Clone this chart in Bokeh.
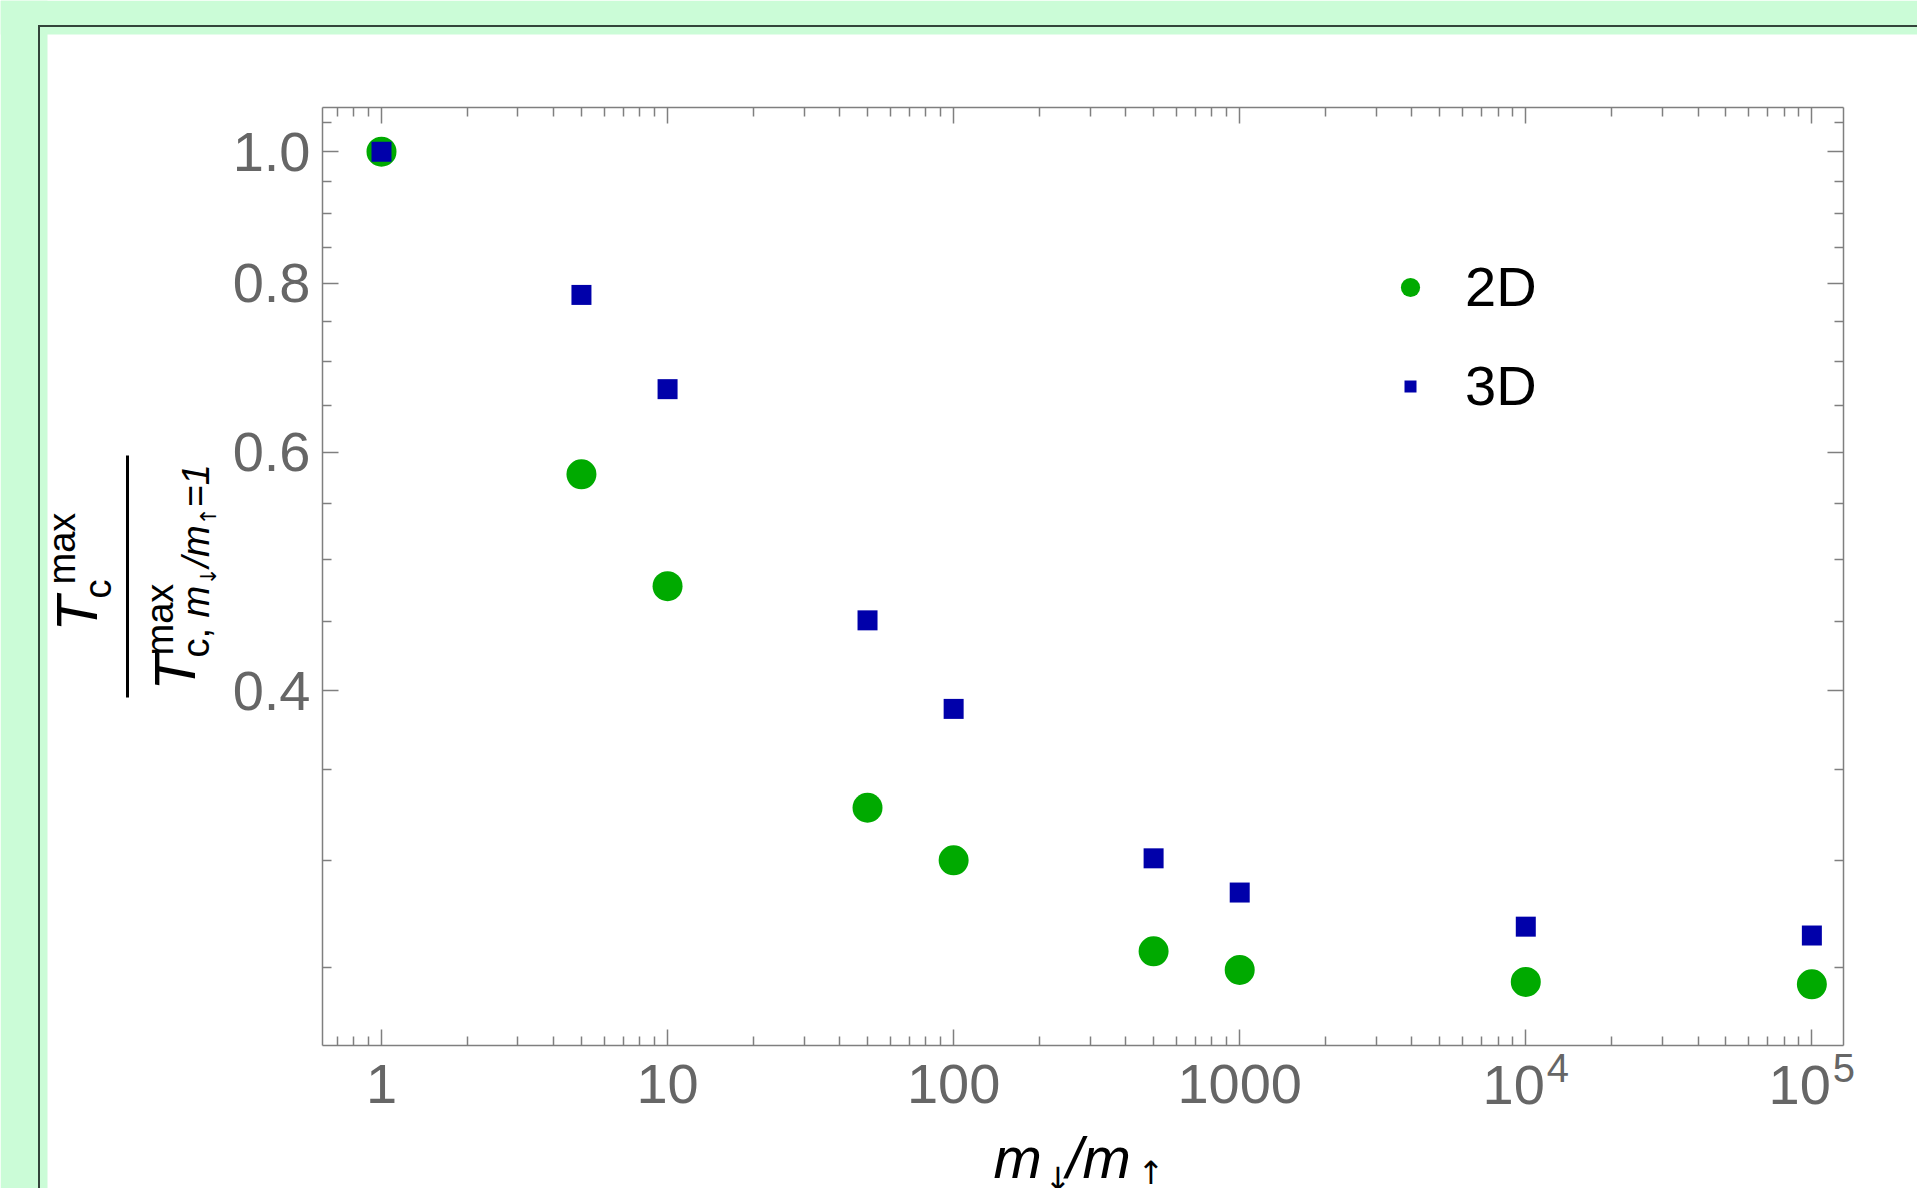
import math
from bokeh.plotting import figure
from bokeh.models import (FixedTicker, CustomJSTickFormatter, LogAxis, Label,
                          BoxAnnotation, Legend, LegendItem)
from bokeh.embed import file_html
from bokeh.resources import INLINE

# ---------------- data ----------------
mass_ratio = [1, 5, 10, 50, 100, 500, 1000, 10000, 100000]
tc_2d = [1.0, 0.578, 0.478, 0.328, 0.300, 0.257, 0.249, 0.244, 0.243]
tc_3d = [1.0, 0.784, 0.668, 0.451, 0.388, 0.301, 0.284, 0.268, 0.264]
series_names = ["2D", "3D"]
x_major = [1, 10, 100, 1000, 10000, 100000]
y_major = [0.4, 0.6, 0.8, 1.0]
y_minor = [0.25, 0.3, 0.35, 0.45, 0.5, 0.55, 0.65, 0.7, 0.75, 0.85, 0.9, 0.95, 1.05]
box_x = (0.622, 1.29e5)     # axis extent of the plot box
box_y = (0.219, 1.078)

# ---------------- style ----------------
GREEN_BG = "#cbfcd7"
DARK_LINE = "#33443a"
FRAME = "#7f7f7f"
TICK_TXT = "#666666"
C2D = "#00aa00"
C3D = "#0000aa"
FONT = "Liberation Sans"
ARROW_FONT = "DejaVu Sans"

W, H = 1917, 1188
BL, BR, BT, BB = 322, 1843, 107, 1045      # plot box in page pixels
BASE_K = 0.36                              # label baseline correction (em)

LX0, LX1 = math.log10(box_x[0]), math.log10(box_x[1])
LY0, LY1 = math.log10(box_y[0]), math.log10(box_y[1])


def px_x(px):
    return 10 ** (LX0 + (px - BL) / (BR - BL) * (LX1 - LX0))


def px_y(py):
    return 10 ** (LY1 - (py - BT) / (BB - BT) * (LY1 - LY0))


p = figure(width=W, height=H, x_axis_type="log", y_axis_type="log",
           x_range=(px_x(0), px_x(W)), y_range=(px_y(H), px_y(0)),
           output_backend="svg", toolbar_location=None, title=None,
           min_border=0, min_border_left=0, min_border_right=0,
           min_border_top=0, min_border_bottom=0,
           border_fill_color="white", background_fill_color="white",
           outline_line_color=None)
p.grid.visible = False

x_minor = [m * 10 ** e for e in range(-1, 5) for m in range(2, 10)
           if box_x[0] < m * 10 ** e < box_x[1]]


def style_axis(ax, ticks, minor, loc, bounds, fmt=None):
    ax.ticker = FixedTicker(ticks=ticks, minor_ticks=minor)
    ax.fixed_location = loc
    ax.bounds = bounds
    ax.axis_line_color = FRAME
    ax.axis_line_width = 1.5
    ax.major_tick_line_color = FRAME
    ax.major_tick_line_width = 1.5
    ax.minor_tick_line_color = FRAME
    ax.minor_tick_line_width = 1.5
    ax.major_tick_in = 16
    ax.major_tick_out = 0
    ax.minor_tick_in = 9
    ax.minor_tick_out = 0
    if fmt is None:
        ax.major_label_text_color = None
        ax.major_label_text_font_size = "1px"
    else:
        ax.formatter = fmt
        ax.major_label_text_font = FONT
        ax.major_label_text_font_size = "56px"
        ax.major_label_text_color = TICK_TXT


style_axis(p.xaxis[0], x_major, x_minor, box_y[0], box_x,
           CustomJSTickFormatter(code="return tick < 5000 ? tick.toFixed(0) : ''"))
p.xaxis[0].major_label_standoff = 19
style_axis(p.yaxis[0], y_major, y_minor, box_x[0], box_y,
           CustomJSTickFormatter(code="return tick.toFixed(1)"))
p.yaxis[0].major_label_standoff = 12

top_ax = LogAxis()
style_axis(top_ax, x_major, x_minor, box_y[1], box_x)
p.add_layout(top_ax, "above")
right_ax = LogAxis()
style_axis(right_ax, y_major, y_minor, box_x[1], box_y)
p.add_layout(right_ax, "right")

# ---------------- page decoration ----------------
def box(l, r, t, b, color):
    p.add_layout(BoxAnnotation(left=px_x(l), right=px_x(r), top=px_y(t), bottom=px_y(b),
                               fill_color=color, fill_alpha=1.0, line_color=None,
                               line_alpha=0, level="underlay"))


box(0, 47, 0, H, GREEN_BG)
box(0, W, 0, 34, GREEN_BG)
box(37.5, 39.5, 24.5, H, DARK_LINE)
box(37.5, W, 24.5, 26.5, DARK_LINE)

# ---------------- data marks ----------------
r2 = p.scatter(mass_ratio, tc_2d, marker="circle", size=30,
               fill_color=C2D, line_color=None)
r3 = p.scatter(mass_ratio, tc_3d, marker="square", size=20,
               fill_color=C3D, line_color=None)

# ---------------- legend ----------------
def make_legend(name, rend, gsize, loc, standoff):
    leg = Legend(items=[LegendItem(label=name, renderers=[rend])],
                 location=loc, glyph_width=gsize, glyph_height=gsize,
                 label_standoff=standoff, padding=0, margin=0, spacing=0,
                 border_line_color=None, background_fill_color=None,
                 background_fill_alpha=0,
                 label_text_font=FONT, label_text_font_size="56px",
                 label_text_color="black")
    p.add_layout(leg)


make_legend(series_names[0], r2, 48, (1386, 869), 31)
make_legend(series_names[1], r3, 30, (1395, 770), 40)

# ---------------- texts ----------------
def txt(px, py, s, size, color="black", italic=False, angle=0.0,
        align="left", xdata=None, x_offset=0, font=FONT):
    # (px, py): start of the text baseline in page pixels
    d = BASE_K * size
    px2 = px - d * math.sin(angle)
    py2 = py - d * math.cos(angle)
    lab = Label(x=px_x(px2) if xdata is None else xdata, y=px_y(py2), text=s,
                text_font=font, text_font_size=f"{size}px", text_color=color,
                text_font_style="italic" if italic else "normal",
                angle=angle, text_align=align, text_baseline="alphabetic",
                x_offset=x_offset)
    p.add_layout(lab)


# tick labels 10^4, 10^5 with superscripts
for tick, sup in [(x_major[4], "4"), (x_major[5], "5")]:
    txt(0, 1105, "10", 56, color=TICK_TXT, align="right", xdata=tick, x_offset=19)
    txt(0, 1082, sup, 40, color=TICK_TXT, align="left", xdata=tick, x_offset=21)

# x-axis label  m_down / m_up
txt(993, 1178, "m", 58, italic=True)
txt(1044, 1190, "\u2193", 32, font=ARROW_FONT)
txt(1066, 1178, "/m", 58, italic=True)
txt(1137, 1184, "\u2191", 32, font=ARROW_FONT)

# y-axis label as rotated fraction
A = math.pi / 2
txt(97, 631, "T", 58, italic=True, angle=A)
txt(75, 584, "max", 38, angle=A)
txt(111, 598, "c", 38, angle=A)
box(125.5, 128.5, 455, 697, "black")
txt(195, 690, "T", 58, italic=True, angle=A)
txt(173, 655, "max", 38, angle=A)
txt(209, 657, "c, ", 38, angle=A)
txt(209, 617, "m", 38, italic=True, angle=A)
txt(216, 585, "\u2193", 22, angle=A, font=ARROW_FONT)
txt(209, 567, "/m", 38, italic=True, angle=A)
txt(216, 525, "\u2191", 22, angle=A, font=ARROW_FONT)
txt(209, 507, "=1", 38, italic=True, angle=A)

open("out.html", "w").write(file_html(p, INLINE))
